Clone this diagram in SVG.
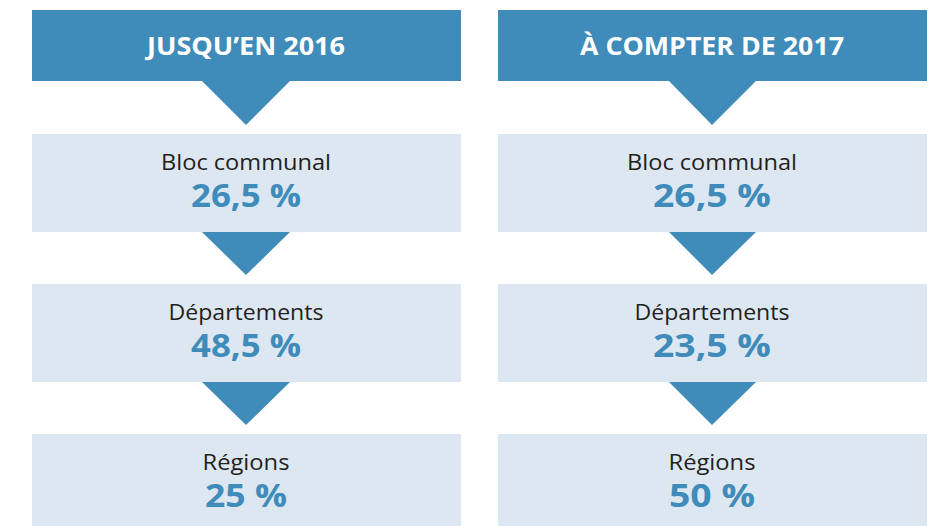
<svg xmlns="http://www.w3.org/2000/svg" width="941" height="526" viewBox="0 0 941 526">
  <style>
    .head { fill: #3F8BBA; }
    .box { fill: #DDE7F1; }
    .arrow { fill: #3F8BBA; }
    .htxt { font-family: "Open Sans", "Liberation Sans", sans-serif; font-weight: 700; font-size: 25px; fill: #FFFFFF; text-anchor: middle; }
    .lbl { font-family: "Open Sans", "Liberation Sans", sans-serif; font-size: 22px; fill: #231F20; text-anchor: middle; }
    .pct { font-family: "Open Sans", "Liberation Sans", sans-serif; font-weight: 700; font-size: 32px; fill: #3F8BBA; text-anchor: middle; }
  </style>
  <rect width="941" height="526" fill="#FFFFFF"/>

  <!-- Left column: until 2016 -->
  <g id="head-2016">
    <rect class="head" x="32" y="10" width="429" height="71"/>
    <text class="htxt" x="246" y="55" textLength="198" lengthAdjust="spacingAndGlyphs">JUSQU’EN 2016</text>
  </g>
  <g id="bloc-2016">
    <rect class="box" x="32" y="134" width="429" height="98"/>
    <text class="lbl" x="246" y="170" textLength="170" lengthAdjust="spacingAndGlyphs">Bloc communal</text>
    <text class="pct" x="246" y="207" textLength="110" lengthAdjust="spacingAndGlyphs">26,5 %</text>
  </g>
  <g id="dep-2016">
    <rect class="box" x="32" y="284" width="429" height="98"/>
    <text class="lbl" x="246" y="320" textLength="155" lengthAdjust="spacingAndGlyphs">Départements</text>
    <text class="pct" x="246" y="357" textLength="110" lengthAdjust="spacingAndGlyphs">48,5 %</text>
  </g>
  <g id="reg-2016">
    <rect class="box" x="32" y="434" width="429" height="92"/>
    <text class="lbl" x="246" y="470" textLength="87" lengthAdjust="spacingAndGlyphs">Régions</text>
    <text class="pct" x="246" y="507" textLength="82" lengthAdjust="spacingAndGlyphs">25 %</text>
  </g>

  <!-- Right column: from 2017 -->
  <g id="head-2017">
    <rect class="head" x="498" y="10" width="429" height="71"/>
    <text class="htxt" x="712" y="55" textLength="264" lengthAdjust="spacingAndGlyphs">À COMPTER DE 2017</text>
  </g>
  <g id="bloc-2017">
    <rect class="box" x="498" y="134" width="429" height="98"/>
    <text class="lbl" x="712" y="170" textLength="170" lengthAdjust="spacingAndGlyphs">Bloc communal</text>
    <text class="pct" x="712" y="207" textLength="118" lengthAdjust="spacingAndGlyphs">26,5 %</text>
  </g>
  <g id="dep-2017">
    <rect class="box" x="498" y="284" width="429" height="98"/>
    <text class="lbl" x="712" y="320" textLength="155" lengthAdjust="spacingAndGlyphs">Départements</text>
    <text class="pct" x="712" y="357" textLength="118" lengthAdjust="spacingAndGlyphs">23,5 %</text>
  </g>
  <g id="reg-2017">
    <rect class="box" x="498" y="434" width="429" height="92"/>
    <text class="lbl" x="712" y="470" textLength="87" lengthAdjust="spacingAndGlyphs">Régions</text>
    <text class="pct" x="712" y="507" textLength="86" lengthAdjust="spacingAndGlyphs">50 %</text>
  </g>

  <!-- Downward triangles linking the stages -->
  <g id="connectors">
    <polygon class="arrow" points="202,81 290,81 246,125"/>
    <polygon class="arrow" points="202,232 290,232 246,275"/>
    <polygon class="arrow" points="202,382 290,382 246,425"/>
    <polygon class="arrow" points="669,81 756,81 712,125"/>
    <polygon class="arrow" points="669,232 756,232 712,275"/>
    <polygon class="arrow" points="669,382 756,382 712,425"/>
  </g>
</svg>
